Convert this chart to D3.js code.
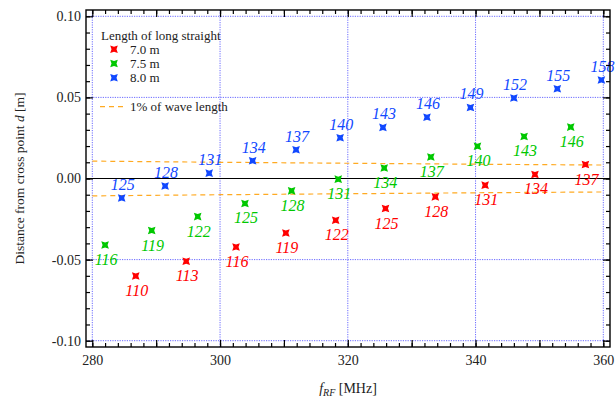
<!DOCTYPE html>
<html>
<head>
<meta charset="utf-8">
<script src="https://cdn.jsdelivr.net/npm/d3@7"></script>
<style>
  body { margin: 0; background: #fff; }
  svg text { font-family: "Liberation Serif", "DejaVu Serif", serif; }
</style>
</head>
<body>
<svg id="chart" width="615" height="400"></svg>
<script>
// harmonic numbers, frequency [MHz] and distance d [m] for each long straight length
const h70 = [110, 113, 116, 119, 122, 125, 128, 131, 134, 137];
const f70 = [286.8, 294.7, 302.5, 310.3, 318.1, 325.9, 333.7, 341.5, 349.3, 357.2];
const d70 = [-0.0601, -0.051, -0.0422, -0.0336, -0.0257, -0.0185, -0.0113, -0.0041, 0.0025, 0.0086];

const h75 = [116, 119, 122, 125, 128, 131, 134, 137, 140, 143, 146];
const f75 = [282.0, 289.3, 296.5, 303.9, 311.2, 318.5, 325.7, 333.0, 340.3, 347.6, 354.9];
const d75 = [-0.041, -0.0321, -0.0235, -0.0154, -0.0076, -0.0004, 0.0065, 0.0133, 0.0199, 0.0259, 0.0317];

const h80 = [125, 128, 131, 134, 137, 140, 143, 146, 149, 152, 155, 158];
const f80 = [284.6, 291.4, 298.3, 305.1, 311.9, 318.8, 325.5, 332.4, 339.2, 346.0, 352.8, 359.7];
const d80 = [-0.012, -0.0046, 0.0033, 0.0109, 0.0177, 0.0251, 0.0315, 0.0378, 0.0438, 0.0496, 0.0553, 0.0607];

// 1% of wave length
const waveF = [280, 300, 320, 340, 360];
const waveD = [0.0107, 0.0100, 0.0094, 0.0088, 0.0083];

const xTickLabels = [280, 300, 320, 340, 360];
const yTickLabels = [-0.10, -0.05, 0.00, 0.05, 0.10];

const series = [
  { name: "7.0 m", h: h70, f: f70, d: d70, color: "#ff0000", above: false },
  { name: "7.5 m", h: h75, f: f75, d: d75, color: "#00c800", above: false },
  { name: "8.0 m", h: h80, f: f80, d: d80, color: "#1148ff", above: true }
];

const svg = d3.select('#chart');
const frame = { left: 86, right: 610, top: 10, bottom: 347 };

const x = d3.scaleLinear().domain([280, 360]).range([92.3, 603.3]);
const y = d3.scaleLinear().domain([-0.1, 0.1]).range([340.7, 16.3]);

// grid
const gridColor = "#5a5aff";
svg.append('g').selectAll('line').data(xTickLabels).join('line')
  .attr('x1', d => x(d)).attr('x2', d => x(d))
  .attr('y1', frame.top).attr('y2', frame.bottom)
  .attr('stroke', gridColor).attr('stroke-width', 0.9).attr('stroke-dasharray', '1.2,1.2');
svg.append('g').selectAll('line').data(yTickLabels.filter(v => v !== 0)).join('line')
  .attr('x1', frame.left).attr('x2', frame.right)
  .attr('y1', d => y(d)).attr('y2', d => y(d))
  .attr('stroke', gridColor).attr('stroke-width', 0.9).attr('stroke-dasharray', '1.2,1.2');

svg.append('line')
  .attr('x1', frame.left).attr('x2', frame.right)
  .attr('y1', y(0)).attr('y2', y(0))
  .attr('stroke', '#000').attr('stroke-width', 1.2);

// 1% of wave length
const waveLine = d3.line().x(d => x(d[0])).y(d => y(d[1]));
[1, -1].forEach(s => {
  svg.append('path')
    .datum(waveF.map((f, i) => [f, s * waveD[i]]))
    .attr('d', waveLine)
    .attr('fill', 'none')
    .attr('stroke', '#ffaa22')
    .attr('stroke-width', 1.2)
    .attr('stroke-dasharray', '5,4');
});

const marker = "M-3.8,-3.8L0,-2.5L3.8,-3.8L2.5,0L3.8,3.8L0,2.5L-3.8,3.8L-2.5,0Z";

series.forEach(s => {
  const pts = s.h.map((h, i) => ({ h: h, f: s.f[i], d: s.d[i] }));
  const g = svg.append('g');
  g.selectAll('path').data(pts).join('path')
    .attr('d', marker)
    .attr('transform', p => `translate(${x(p.f)},${y(p.d)})`)
    .attr('fill', s.color);
  g.selectAll('text').data(pts).join('text')
    .attr('x', p => x(p.f) + 1)
    .attr('y', p => y(p.d) + (s.above ? -8 : 20))
    .attr('text-anchor', 'middle')
    .attr('font-size', 16)
    .attr('font-style', 'italic')
    .attr('fill', s.color)
    .text(p => p.h);
});

// frame
svg.append('rect')
  .attr('x', frame.left).attr('y', frame.top)
  .attr('width', frame.right - frame.left).attr('height', frame.bottom - frame.top)
  .attr('fill', 'none').attr('stroke', '#000').attr('stroke-width', 1.4);

// ticks
const xMinor = d3.range(280, 361, 2);
const xMajor = d3.range(280, 361, 10);
const yMinor = d3.range(-10, 11, 1).map(v => v / 100);
const yMajor = yTickLabels;

function styleAxis(g) {
  g.select('.domain').remove();
  g.selectAll('line').attr('stroke', '#000').attr('stroke-width', 1.2);
  g.selectAll('text').attr('font-size', 14).attr('fill', '#222')
    .style('font-family', '"Liberation Serif", serif');
}

svg.append('g').attr('transform', `translate(0,${frame.bottom})`)
  .call(d3.axisBottom(x).tickValues(xMinor).tickSize(-4).tickFormat('')).call(styleAxis);
svg.append('g').attr('transform', `translate(0,${frame.bottom})`)
  .call(d3.axisBottom(x).tickValues(xMajor).tickSize(-7).tickPadding(8)
    .tickFormat(d => xTickLabels.includes(d) ? d : '')).call(styleAxis);
svg.append('g').attr('transform', `translate(0,${frame.top})`)
  .call(d3.axisTop(x).tickValues(xMinor).tickSize(-4).tickFormat('')).call(styleAxis);
svg.append('g').attr('transform', `translate(0,${frame.top})`)
  .call(d3.axisTop(x).tickValues(xMajor).tickSize(-7).tickFormat('')).call(styleAxis);

svg.append('g').attr('transform', `translate(${frame.left},0)`)
  .call(d3.axisLeft(y).tickValues(yMinor).tickSize(-4).tickFormat('')).call(styleAxis);
svg.append('g').attr('transform', `translate(${frame.left},0)`)
  .call(d3.axisLeft(y).tickValues(yMajor).tickSize(-7).tickPadding(5)
    .tickFormat(d => d.toFixed(2))).call(styleAxis);
svg.append('g').attr('transform', `translate(${frame.right},0)`)
  .call(d3.axisRight(y).tickValues(yMinor).tickSize(-4).tickFormat('')).call(styleAxis);
svg.append('g').attr('transform', `translate(${frame.right},0)`)
  .call(d3.axisRight(y).tickValues(yMajor).tickSize(-7).tickFormat('')).call(styleAxis);

// axis titles
const yTitle = svg.append('text')
  .attr('transform', `translate(24,${(frame.top + frame.bottom) / 2}) rotate(-90)`)
  .attr('text-anchor', 'middle')
  .attr('font-size', 13.5)
  .attr('fill', '#222');
yTitle.append('tspan').text('Distance from cross point ');
yTitle.append('tspan').attr('font-style', 'italic').text('d');
yTitle.append('tspan').text(' [m]');

const xTitle = svg.append('text')
  .attr('x', 348).attr('y', 393)
  .attr('text-anchor', 'middle')
  .attr('font-size', 14)
  .attr('fill', '#222');
xTitle.append('tspan').attr('font-style', 'italic').text('f');
xTitle.append('tspan').attr('font-style', 'italic').attr('font-size', 10).attr('dy', 3).text('RF');
xTitle.append('tspan').attr('dy', -3).text(' [MHz]');

// legend
const legend = svg.append('g').attr('font-size', 13).attr('fill', '#222');
legend.append('text').attr('x', 101).attr('y', 40).text('Length of long straight');
series.forEach((s, i) => {
  const ly = 49.3 + i * 14.2;
  legend.append('path').attr('d', marker)
    .attr('transform', `translate(114,${ly})`).attr('fill', s.color);
  legend.append('text').attr('x', 130).attr('y', ly + 4.5).text(s.name);
});
legend.append('line')
  .attr('x1', 100).attr('x2', 124).attr('y1', 106.7).attr('y2', 106.7)
  .attr('stroke', '#ffaa22').attr('stroke-width', 1.2).attr('stroke-dasharray', '5,4');
legend.append('text').attr('x', 130).attr('y', 111).text('1% of wave length');
</script>
</body>
</html>
